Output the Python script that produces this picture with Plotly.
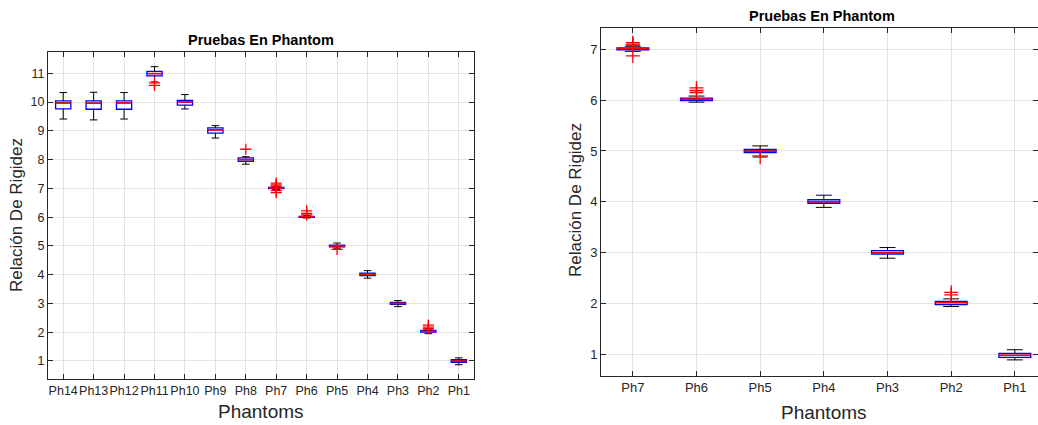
import plotly.graph_objects as go

# ---------------- data ----------------
left_cats = ["Ph14", "Ph13", "Ph12", "Ph11", "Ph10", "Ph9", "Ph8",
             "Ph7", "Ph6", "Ph5", "Ph4", "Ph3", "Ph2", "Ph1"]
left_upper = [10.33, 10.34, 10.33, 11.23, 10.26, 9.18, 8.10, 7.07, 6.05, 5.10, 4.14, 3.10, 2.08, 1.11]
left_q3 = [10.04, 10.04, 10.04, 11.07, 10.06, 9.10, 8.06, 7.03, 6.03, 5.03, 4.05, 3.04, 2.06, 1.05]
left_median = [9.97, 9.96, 9.97, 10.99, 10.00, 9.03, 8.00, 7.01, 6.01, 5.00, 4.01, 3.00, 2.03, 1.00]
left_q1 = [9.76, 9.75, 9.75, 10.91, 9.89, 8.92, 7.94, 6.99, 5.99, 4.97, 3.97, 2.97, 2.00, 0.95]
left_lower = [9.41, 9.38, 9.41, 10.70, 9.76, 8.75, 7.84, 6.96, 5.97, 4.92, 3.88, 2.89, 1.95, 0.87]
left_out_cat = ["Ph11", "Ph11", "Ph8", "Ph7", "Ph7", "Ph7", "Ph7", "Ph7",
                "Ph6", "Ph6", "Ph6", "Ph5", "Ph2", "Ph2", "Ph2"]
left_out_val = [10.67, 10.58, 8.36, 7.18, 7.12, 7.08, 6.92, 6.85,
                6.22, 6.13, 6.08, 4.88, 2.25, 2.18, 2.12]

right_cats = ["Ph7", "Ph6", "Ph5", "Ph4", "Ph3", "Ph2", "Ph1"]
right_upper = [7.06, 6.08, 5.10, 4.13, 3.10, 2.09, 1.09]
right_q3 = [7.03, 6.04, 5.03, 4.04, 3.04, 2.04, 1.02]
right_median = [7.01, 6.02, 5.00, 4.00, 3.00, 2.02, 0.98]
right_q1 = [6.99, 5.99, 4.97, 3.97, 2.97, 1.98, 0.94]
right_lower = [6.96, 5.96, 4.90, 3.89, 2.89, 1.94, 0.89]
right_out_cat = ["Ph7", "Ph7", "Ph7", "Ph7", "Ph6", "Ph6", "Ph6", "Ph5", "Ph2", "Ph2"]
right_out_val = [7.13, 7.10, 7.08, 6.87, 6.24, 6.19, 6.15, 4.88, 2.22, 2.17]

title_text = "Pruebas En Phantom"
ytitle_text = "Relación De Rigidez"
xtitle_text = "Phantoms"

# ---------------- style ----------------
FONT = "Liberation Sans, Arial, sans-serif"
AX = "#262626"
GRID = "#e3e3e3"
BOXW = 0.5
CAPW = 0.125

fig = go.Figure()


def add_boxes(cats, upper, q3, med, q1, lower, out_cat, out_val, xa, ya, msize):
    pos = list(range(1, len(cats) + 1))
    idx = {c: p for c, p in zip(cats, pos)}
    fig.add_trace(go.Box(
        x=pos, q1=q1, median=med, q3=q3, lowerfence=q1, upperfence=q3,
        width=BOXW, whiskerwidth=0, boxpoints=False,
        fillcolor="rgba(255,255,255,0)", line=dict(color="#0000ff", width=1.3),
        xaxis=xa, yaxis=ya, showlegend=False, hoverinfo="skip"))
    wx, wy = [], []
    for p, u, t, b, l in zip(pos, upper, q3, q1, lower):
        wx += [p, p, None, p, p, None, p - CAPW, p + CAPW, None, p - CAPW, p + CAPW, None]
        wy += [t, u, None, b, l, None, u, u, None, l, l, None]
    fig.add_trace(go.Scatter(x=wx, y=wy, mode="lines", line=dict(color="black", width=1),
                             xaxis=xa, yaxis=ya, showlegend=False, hoverinfo="skip"))
    mx, my = [], []
    for p, m in zip(pos, med):
        mx += [p - BOXW / 2, p + BOXW / 2, None]
        my += [m, m, None]
    fig.add_trace(go.Scatter(x=mx, y=my, mode="lines", line=dict(color="#ff0000", width=1.6),
                             xaxis=xa, yaxis=ya, showlegend=False, hoverinfo="skip"))
    fig.add_trace(go.Scatter(x=[idx[c] for c in out_cat], y=out_val, mode="markers",
                             marker=dict(symbol="cross-thin", size=msize,
                                         line=dict(color="#ff0000", width=1.3)),
                             xaxis=xa, yaxis=ya, showlegend=False, hoverinfo="skip"))
    return pos


lpos = add_boxes(left_cats, left_upper, left_q3, left_median, left_q1, left_lower,
                 left_out_cat, left_out_val, "x", "y", 8)
rpos = add_boxes(right_cats, right_upper, right_q3, right_median, right_q1, right_lower,
                 right_out_cat, right_out_val, "x2", "y2", 10)

W, H = 1038, 425


def axis_common(fs):
    return dict(showline=True, linecolor=AX, linewidth=1, mirror="ticks",
                ticks="inside", ticklen=5, tickcolor=AX, showgrid=True, gridcolor=GRID,
                gridwidth=1, zeroline=False, automargin=False, tickangle=0,
                tickfont=dict(family=FONT, size=fs, color=AX))


fig.update_layout(
    width=W, height=H, paper_bgcolor="white", plot_bgcolor="white",
    margin=dict(l=0, r=0, t=0, b=0),
    xaxis=dict(domain=[48 / W, 474 / W], range=[0.5, 14.5], tickvals=lpos, ticktext=left_cats,
               anchor="y", **axis_common(12.5)),
    yaxis=dict(domain=[(H - 379) / H, (H - 52) / H], range=[0.374, 11.74],
               tickvals=list(range(1, 12)), anchor="x", **axis_common(12.5)),
    xaxis2=dict(domain=[601 / W, 1.0], range=[0.5, 0.5 + 437 / 63.67], tickvals=rpos,
                ticktext=right_cats, anchor="y2", **axis_common(13)),
    yaxis2=dict(domain=[(H - 375.7) / H, (H - 27.7) / H], range=[0.579, 7.425],
                tickvals=list(range(1, 8)), anchor="x2", **axis_common(13)),
)

ann = [
    dict(text="<b>%s</b>" % title_text, x=261, y=40, size=14.5),
    dict(text="<b>%s</b>" % title_text, x=822, y=16, size=14.5),
    dict(text=xtitle_text, x=261, y=411, size=19),
    dict(text=xtitle_text, x=824, y=412, size=19),
]
for a in ann:
    fig.add_annotation(text=a["text"], x=a["x"] / W, y=1 - a["y"] / H, xref="paper", yref="paper",
                       xanchor="center", yanchor="middle", showarrow=False,
                       font=dict(family=FONT, size=a["size"], color="black" if "<b>" in a["text"] else AX))
for xx, yy in [(16, 215), (575, 200)]:
    fig.add_annotation(text=ytitle_text, x=xx / W, y=1 - yy / H, xref="paper", yref="paper",
                       xanchor="center", yanchor="middle", showarrow=False, textangle=-90,
                       font=dict(family=FONT, size=17, color=AX))

fig.write_html("out.html", config={"displayModeBar": False},
               post_script="document.body.style.margin='0';document.body.style.overflow='hidden';")
